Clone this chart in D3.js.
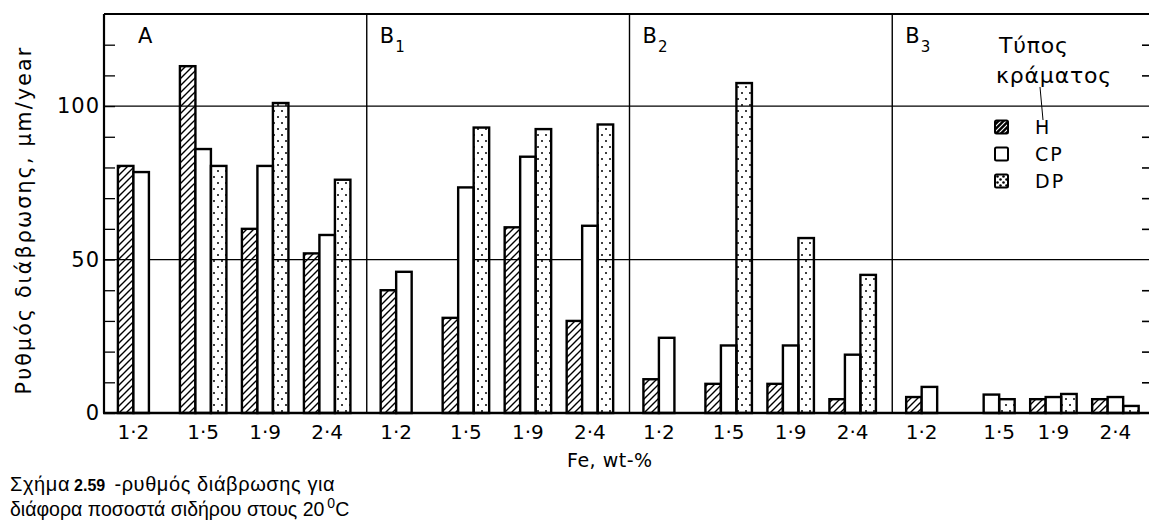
<!DOCTYPE html>
<html>
<head>
<meta charset="utf-8">
<script src="https://cdn.jsdelivr.net/npm/d3@7"></script>
<style>
  body { margin: 0; background: #fff; }
  svg { display: block; font-family: "DejaVu Sans", sans-serif; }
</style>
</head>
<body>
<div id="chart"></div>
<script>
// panels (alloy groups) and Fe levels
const panels = ["A", "B1", "B2", "B3"]
const panelNames = [["A", ""], ["B", "1"], ["B", "2"], ["B", "3"]]
const feLevels = ["1·2", "1·5", "1·9", "2·4"]
const alloys = ["H", "CP", "DP"]

// corrosion rate, µm/year; 4 values per panel, panel after panel (null = no bar)
const hValues  = [80.5, 113, 60, 52,    40, 31, 60.5, 30,      11, 9.5, 9.5, 4.5,   5.2, null, 4.5, 4.5]
const cpValues = [78.5, 86, 80.5, 58,   46, 73.5, 83.5, 61,    24.5, 22, 22, 19,    8.5, 6, 5.2, 5.2]
const dpValues = [null, 80.5, 101, 76,  null, 93, 92.5, 94,    null, 107.5, 57, 45, null, 4.5, 6.2, 2.3]

const yTicks = [0, 10, 20, 30, 40, 50, 60, 70, 80, 90, 100, 110, 120]
const yLabelled = [0, 50, 100]
const gridValues = [50, 100]

const W = 1149, H = 523
const plotLeft = 104, plotRight = 1155, plotTop = 14, plotBase = 413

const svg = d3.select('#chart').append('svg')
    .attr('width', W)
    .attr('height', H)

// patterns
const defs = svg.append('defs')
defs.append('pattern')
    .attr('id', 'hatch')
    .attr('patternUnits', 'userSpaceOnUse')
    .attr('width', 7).attr('height', 7)
    .append('path')
    .attr('d', 'M-1,1 l2,-2 M0,7 l7,-7 M6,8 l2,-2')
    .attr('stroke', '#000')
    .attr('stroke-width', 1.4)

const dots = defs.append('pattern')
    .attr('id', 'dots')
    .attr('patternUnits', 'userSpaceOnUse')
    .attr('width', 8).attr('height', 12)
dots.append('circle').attr('cx', 2).attr('cy', 3).attr('r', 1)
dots.append('circle').attr('cx', 6).attr('cy', 9).attr('r', 1)

const whiteHatch = defs.append('pattern')
    .attr('id', 'hatch-inv')
    .attr('patternUnits', 'userSpaceOnUse')
    .attr('width', 5).attr('height', 5)
whiteHatch.append('rect').attr('width', 5).attr('height', 5).attr('fill', '#000')
whiteHatch.append('path')
    .attr('d', 'M-1,1 l2,-2 M0,5 l5,-5 M4,6 l2,-2')
    .attr('stroke', '#fff')
    .attr('stroke-width', 1.1)

const bigDots = defs.append('pattern')
    .attr('id', 'dots-big')
    .attr('patternUnits', 'userSpaceOnUse')
    .attr('width', 6).attr('height', 6)
bigDots.append('circle').attr('cx', 1.5).attr('cy', 1.5).attr('r', 1.3)
bigDots.append('circle').attr('cx', 4.5).attr('cy', 4.5).attr('r', 1.3)

// scales
const y = d3.scaleLinear().domain([0, 130]).range([plotBase, plotTop])
const xPanel = d3.scaleBand().domain(panels).range([plotLeft, plotRight])
const xFe = d3.scaleBand().domain(feLevels).range([0, xPanel.bandwidth()])
    .paddingInner(0.25).paddingOuter(0.244).align(0.46)
const xAlloy = d3.scaleBand().domain(alloys).range([0, xFe.bandwidth()])

const fills = { H: 'url(#hatch)', CP: '#fff', DP: 'url(#dots)' }
const series = { H: hValues, CP: cpValues, DP: dpValues }

const rows = []
panels.forEach((p, pi) => feLevels.forEach((f, fi) => alloys.forEach(a => {
    const v = series[a][pi * feLevels.length + fi]
    if (v != null) rows.push({ panel: p, fe: f, alloy: a, value: v })
})))

const barX = d => xPanel(d.panel) + xFe(d.fe) + xAlloy(d.alloy)

// grid lines at 50 and 100
svg.append('g')
    .selectAll('line')
    .data(gridValues)
    .join('line')
    .attr('x1', plotLeft).attr('x2', W)
    .attr('y1', d => y(d)).attr('y2', d => y(d))
    .attr('stroke', '#000')
    .attr('stroke-width', 1.3)

// panel dividers
svg.append('g')
    .selectAll('line')
    .data(panels.slice(1))
    .join('line')
    .attr('x1', d => xPanel(d)).attr('x2', d => xPanel(d))
    .attr('y1', plotTop).attr('y2', plotBase)
    .attr('stroke', '#000')
    .attr('stroke-width', 1.4)

// bars
svg.append('g')
    .selectAll('rect')
    .data(rows)
    .join('rect')
    .attr('x', barX)
    .attr('y', d => y(d.value))
    .attr('width', xAlloy.bandwidth())
    .attr('height', d => y(0) - y(d.value))
    .attr('fill', d => fills[d.alloy])
    .attr('stroke', '#000')
    .attr('stroke-width', 2.4)

// left axis
const yAxis = svg.append('g')
    .attr('transform', `translate(${plotLeft},0)`)
    .call(d3.axisLeft(y).tickValues(yTicks).tickSize(-11).tickPadding(4)
        .tickFormat(d => yLabelled.includes(d) ? d : ''))
yAxis.select('.domain').attr('stroke-width', 2.2).attr('d', `M0,${plotTop}V${plotBase}`)
yAxis.selectAll('.tick line').attr('stroke-width', 1.3)
yAxis.selectAll('text')
    .attr('font-family', '"DejaVu Sans", sans-serif')
    .attr('font-size', 21)
    .attr('letter-spacing', 1)
    .attr('fill', '#000')

// right axis (frame lies just outside the picture)
const yAxisR = svg.append('g')
    .attr('transform', `translate(${plotRight},0)`)
    .call(d3.axisRight(y).tickValues(yTicks.filter(d => !gridValues.includes(d) && d > 0))
        .tickSize(-13).tickFormat(''))
yAxisR.select('.domain').remove()
yAxisR.selectAll('.tick line').attr('stroke-width', 1.6)

// top frame and baseline
svg.append('line')
    .attr('x1', plotLeft).attr('x2', W)
    .attr('y1', plotTop).attr('y2', plotTop)
    .attr('stroke', '#000').attr('stroke-width', 2.2)
svg.append('line')
    .attr('x1', plotLeft - 1).attr('x2', W)
    .attr('y1', plotBase).attr('y2', plotBase)
    .attr('stroke', '#000').attr('stroke-width', 2.6)

// Fe tick labels, centred under the bars that exist
const groups = d3.groups(rows, d => d.panel, d => d.fe)
const labelData = []
groups.forEach(([p, fes]) => fes.forEach(([f, bars]) => {
    const x0 = d3.min(bars, barX), x1 = d3.max(bars, d => barX(d) + xAlloy.bandwidth())
    labelData.push({ fe: f, x: (x0 + x1) / 2 })
}))
svg.append('g')
    .selectAll('text')
    .data(labelData)
    .join('text')
    .attr('x', d => d.x)
    .attr('y', 439)
    .attr('text-anchor', 'middle')
    .attr('font-size', 20)
    .text(d => d.fe)

// panel names
const names = svg.append('g')
    .selectAll('text')
    .data(panels)
    .join('text')
    .attr('x', d => xPanel(d) + 13)
    .attr('y', 43)
    .attr('font-size', 21)
names.append('tspan').text((d, i) => panelNames[i][0])
names.append('tspan')
    .attr('dx', 1).attr('dy', 9)
    .attr('font-size', 15)
    .text((d, i) => panelNames[i][1])
names.filter(d => d === 'A').attr('x', xPanel('A') + 34)

// axis titles
svg.append('text')
    .attr('x', 567).attr('y', 467)
    .attr('font-size', 19)
    .attr('letter-spacing', 0.5)
    .text('Fe, wt-%')

svg.append('text')
    .attr('transform', `translate(31,220) rotate(-90)`)
    .attr('text-anchor', 'middle')
    .attr('font-size', 20.5)
    .attr('letter-spacing', 2.2)
    .text('Ρυθμός διάβρωσης, μm/year')

// legend
const lg = svg.append('g').attr('font-size', 22).attr('letter-spacing', 0.8)
lg.append('text').attr('x', 999).attr('y', 53).text('Τύπος')
lg.append('text').attr('x', 996).attr('y', 83).text('κράματος')
lg.append('line')
    .attr('x1', 1040).attr('y1', 87).attr('x2', 1043).attr('y2', 120)
    .attr('stroke', '#000').attr('stroke-width', 1)

const legendFill = { H: 'url(#hatch-inv)', CP: '#fff', DP: 'url(#dots-big)' }
const legendY = d3.scalePoint().domain(alloys).range([127, 181])
const item = lg.selectAll('g.item')
    .data(alloys)
    .join('g')
    .attr('class', 'item')
    .attr('transform', d => `translate(0,${legendY(d)})`)
item.append('rect')
    .attr('x', 995).attr('y', -6.5)
    .attr('width', 13).attr('height', 13)
    .attr('rx', 1.5)
    .attr('fill', d => legendFill[d])
    .attr('stroke', '#000')
    .attr('stroke-width', 2)
item.append('text')
    .attr('x', 1035).attr('y', 7)
    .attr('font-size', 19)
    .attr('letter-spacing', 2)
    .text(d => d)

// caption
const cap = svg.append('g')
    .attr('font-family', '"Liberation Sans", Arial, sans-serif')
    .attr('font-size', 20)
const c1 = cap.append('text').attr('x', 10).attr('y', 491)
c1.append('tspan').attr('letter-spacing', 0.6).text('Σχήμα')
c1.append('tspan').attr('font-size', 16).attr('font-weight', 'bold').attr('dx', 4).text('2.59')
c1.append('tspan').attr('dx', 3).attr('letter-spacing', 0.6).text(' -ρυθμός διάβρωσης για')
const c2 = cap.append('text').attr('x', 10).attr('y', 516).attr('font-size', 19.5)
c2.append('tspan').text('διάφορα ποσοστά σιδήρου στους 20')
c2.append('tspan').attr('font-size', 14).attr('dy', -8).attr('dx', 3).text('0')
c2.append('tspan').attr('dy', 8).text('C')
</script>
</body>
</html>
